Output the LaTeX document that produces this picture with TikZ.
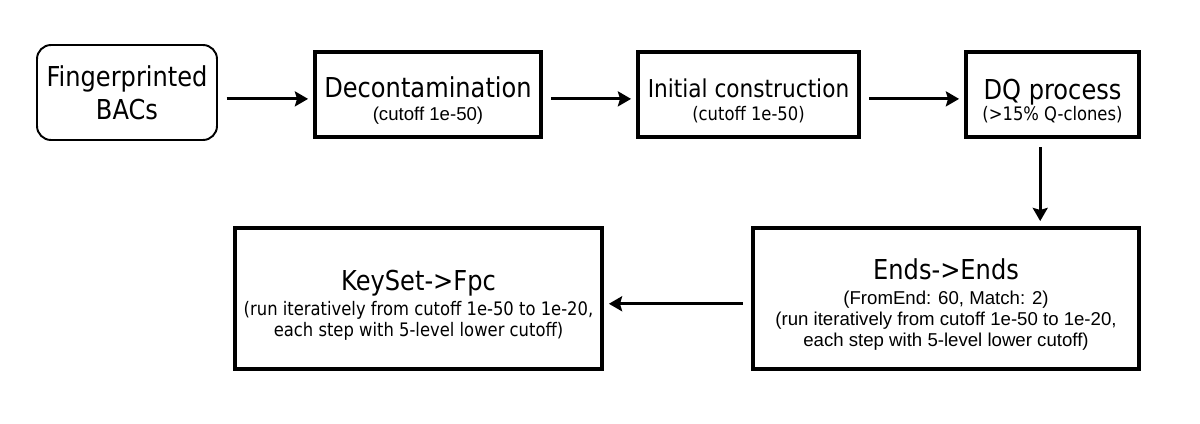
\documentclass[tikz,border=0pt]{standalone}
\usepackage{fontspec}
\setmainfont{DejaVu Sans}[FakeStretch=0.88]
\newfontfamily\arialfont{Liberation Sans}
\usetikzlibrary{arrows.meta}
\tikzset{>={Stealth[length=7.5pt,width=8.5pt,inset=1.2pt]}}

\newcommand{\mainsz}{\fontsize{15.6}{19}\selectfont}
\newcommand{\headsz}{\mainsz\rule{0pt}{19pt}}
\newcommand{\subsz}{\fontsize{10.6}{12}\selectfont}
\newcommand{\arialsub}{\arialfont\fontsize{10.6}{12.2}\selectfont}

\begin{document}
\begin{tikzpicture}[x=0.02cm,y=-0.02cm,
  stagebox/.style={draw,line width=1.9pt,align=center,inner sep=0pt,font=\subsz},
  flow/.style={->,line width=1.7pt,shorten >=3pt,shorten <=5pt}]
  \useasboundingbox (0,0) rectangle (1200,423);

  % Top row
  \node[draw,line width=1.1pt,rounded corners=0.28cm,align=center,font=\mainsz,
    minimum width=3.6cm,minimum height=1.9cm] (fp) at (127,92.5)
    {Fingerprinted\\BACs};
  \node[stagebox,minimum width=4.52cm,minimum height=1.7cm] (decon) at (428,94.5)
    {\headsz Decontamination\\[1pt]\arialsub (cutoff 1e-50)};
  \node[stagebox,minimum width=4.42cm,minimum height=1.7cm] (init) at (748.5,94.5)
    {\fontsize{14}{17}\selectfont\rule{0pt}{18pt}Initial construction\\[1pt](cutoff 1e-50)};
  \node[stagebox,minimum width=3.46cm,minimum height=1.7cm] (dq) at (1052.5,94.5)
    {\headsz DQ process\\(>15\% Q-clones)};

  % Bottom row
  \node[stagebox,minimum width=7.72cm,minimum height=2.82cm] (ends) at (946,298.5)
    {\headsz Ends->Ends\\[2pt]\arialsub (FromEnd: 60, Match: 2)\\
     \arialsub (run iteratively from cutoff 1e-50 to 1e-20,\\
     \arialsub each step with 5-level lower cutoff)};
  \node[stagebox,minimum width=7.34cm,minimum height=2.82cm] (keyset) at (418.5,298.5)
    {\headsz KeySet->Fpc\\[2pt](run iteratively from cutoff 1e-50 to 1e-20,\\
     each step with 5-level lower cutoff)};

  % Connectors
  \draw[flow] ([yshift=-2.5pt]decon.west -| fp.east) -- ([yshift=-2.5pt]decon.west);
  \draw[flow] ([yshift=-2.5pt]decon.east) -- ([yshift=-2.5pt]init.west);
  \draw[flow] ([yshift=-2.5pt]init.east) -- ([yshift=-2.5pt]dq.west);
  \draw[flow] ([xshift=-7pt]dq.south) -- ([xshift=-7pt]dq.south |- ends.north);
  \draw[flow] ([yshift=-3pt]ends.west) -- ([yshift=-3pt]keyset.east);
\end{tikzpicture}
\end{document}
